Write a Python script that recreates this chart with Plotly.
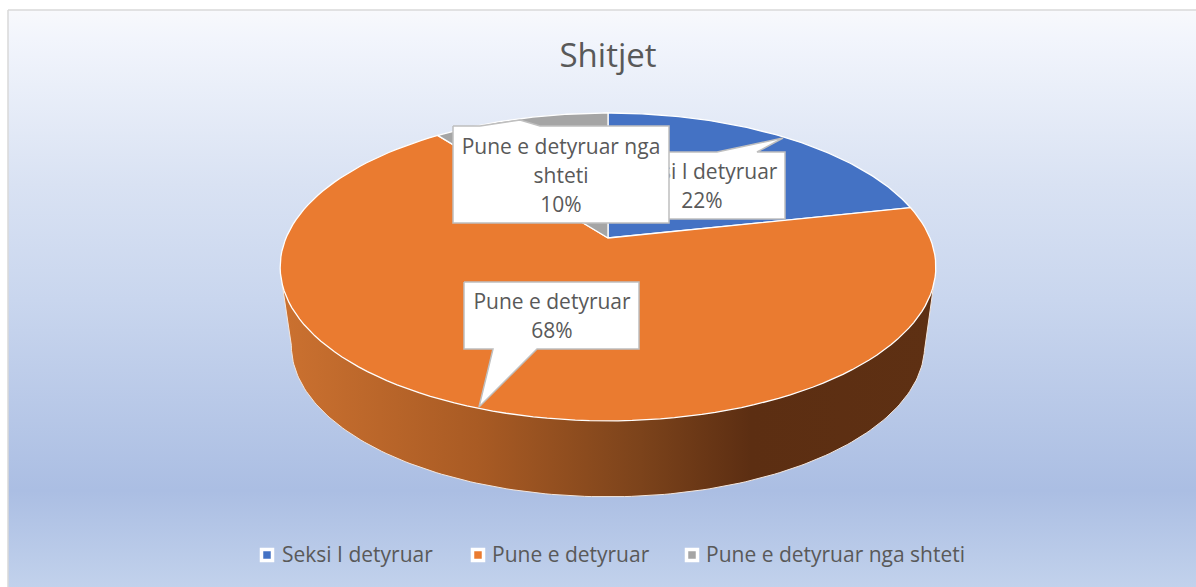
import numpy as np
import plotly.graph_objects as go

# ---- data ----
categories = ["Seksi I detyruar", "Pune e detyruar", "Pune e detyruar nga shteti"]
values = [21.6, 68.0, 10.4]
title_text = "Shitjet"
slice_colors = ["#4472C4", "#EA7B30", "#A5A5A5"]

# ---- pie projection (perspective circle seen from above) ----
W, H = 1196, 587
CX, K = 608, 0.188
TOP = dict(y0=238, A=322, B=148.5)
BOTTOM = dict(y0=317, A=311, B=146)


def project(theta, y0, A, B):
    u, v = np.sin(theta), np.cos(theta)
    d = 1 + K * v
    return CX + A * u / d, y0 - B * v / d


fig = go.Figure()

# background card
fig.add_trace(go.Scatter(
    x=[8, W + 2, W + 2, 8, 8], y=[10, 10, H + 2, H + 2, 10], mode="lines",
    line=dict(color="#D9D9D9", width=1.5), fill="toself",
    fillgradient=dict(type="vertical", colorscale=[
        [0.0, "#C2D2EC"], [0.17, "#ABBEE3"], [0.5, "#C9D6EE"],
        [0.70, "#D9E2F3"], [0.95, "#F2F5FC"], [1.0, "#F8F9FC"]]),
    hoverinfo="skip", showlegend=False))

# side wall of the pie
ang_low = np.radians(np.linspace(100.8, 259.2, 160))
bx, by = project(ang_low, **BOTTOM)
tx1, ty1 = project(np.radians(107), **TOP)
tx2, ty2 = project(np.radians(253), **TOP)
fig.add_trace(go.Scatter(
    x=np.r_[tx1, bx, tx2, tx1], y=np.r_[ty1, by, ty2, ty1], mode="lines",
    line=dict(color="#F4E6DC", width=1), fill="toself",
    fillgradient=dict(type="horizontal", colorscale=[
        [0.0, "#CB7130"], [0.3, "#A95B24"], [0.55, "#7C431B"],
        [0.72, "#5C2E12"], [1.0, "#5E3013"]]),
    hoverinfo="skip", showlegend=False))

# top face slices, from the values
total = sum(values)
fracs = np.cumsum([0] + values) / total
pct = [f"{round(v / total * 100)}%" for v in values]
for i, name in enumerate(categories):
    th = 2 * np.pi * np.linspace(fracs[i], fracs[i + 1], 120)
    px, py = project(th, **TOP)
    cx0, cy0 = CX, TOP["y0"]
    fig.add_trace(go.Scatter(
        x=np.r_[cx0, px, cx0], y=np.r_[cy0, py, cy0], mode="lines",
        line=dict(color="white", width=1.3), fill="toself",
        fillcolor=slice_colors[i], name=name, hoverinfo="name",
        showlegend=False))

TEXT = "#595959"
FONT = "Open Sans, Noto Sans, sans-serif"
LABEL_SIZE = 21


def callout(xs, ys, lines, tx, tys):
    fig.add_trace(go.Scatter(
        x=xs, y=ys, mode="lines", fill="toself", fillcolor="white",
        line=dict(color="#BFBFBF", width=1.5), hoverinfo="skip", showlegend=False))
    fig.add_trace(go.Scatter(
        x=[tx] * len(lines), y=tys, mode="text", text=lines,
        textposition="middle center",
        textfont=dict(family=FONT, size=LABEL_SIZE, color=TEXT),
        hoverinfo="skip", showlegend=False))


# Seksi I detyruar callout (partly hidden by the next one)
callout([620, 717, 783, 757, 785, 785, 620, 620],
        [152, 152, 138, 152, 152, 219, 219, 152],
        [categories[0], pct[0]], 702, [174, 203])
# Pune e detyruar callout
callout([464, 639, 639, 537, 479, 493, 464, 464],
        [282, 282, 349, 349, 407, 349, 349, 282],
        [categories[1], pct[1]], 552, [304, 333])
# Pune e detyruar nga shteti callout
callout([453, 480, 520, 540, 669, 669, 453, 453],
        [126, 126, 120, 126, 126, 223, 223, 126],
        ["Pune e detyruar nga", "shteti", pct[2]], 561, [149, 178, 207])

# legend row, placed exactly under the pie
legend_marker_x = [267, 478, 692]
legend_text_x = [282, 492, 706]
LEGEND_MARK_Y = 555
LEGEND_TEXT_Y = 557
for name, col, mx, tx in zip(categories, slice_colors, legend_marker_x, legend_text_x):
    fig.add_trace(go.Scatter(
        x=[mx], y=[LEGEND_MARK_Y], mode="markers", name=name, hoverinfo="name",
        marker=dict(symbol="square", size=11, color=col,
                    line=dict(color="white", width=3.5)),
        showlegend=False))
    fig.add_trace(go.Scatter(
        x=[tx], y=[LEGEND_TEXT_Y], mode="text", text=[name], textposition="middle right",
        textfont=dict(family=FONT, size=21, color=TEXT),
        hoverinfo="skip", showlegend=False))

fig.update_layout(
    width=W, height=H, margin=dict(l=0, r=0, t=0, b=0),
    paper_bgcolor="white", plot_bgcolor="white",
    title=dict(text=title_text, x=608 / W, xanchor="center", y=1 - 55 / H,
               yanchor="middle", font=dict(family=FONT, size=33, color=TEXT)),
    xaxis=dict(range=[0, W], visible=False, fixedrange=True),
    yaxis=dict(range=[H, 0], visible=False, fixedrange=True),
    showlegend=False,
)

fig.write_html("out.html", config={"displayModeBar": False},
               post_script="document.body.style.margin='0';")
